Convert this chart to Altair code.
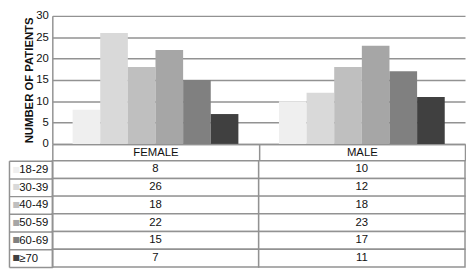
import altair as alt
import pandas as pd

# ---- data ----
sexes = ["FEMALE", "MALE"]
age_groups = ["18-29", "30-39", "40-49", "50-59", "60-69", "≥70"]
female = [8, 26, 18, 22, 15, 7]
male = [10, 12, 18, 23, 17, 11]
shades = ["#efefef", "#d9d9d9", "#bfbfbf", "#a6a6a6", "#808080", "#404040"]
y_ticks = [0, 5, 10, 15, 20, 25, 30]

rows = []
for sex, vals in zip(sexes, [female, male]):
    for age, v in zip(age_groups, vals):
        rows.append({"sex": sex, "age": age, "n": v})
df = pd.DataFrame(rows)

FONT = "Liberation Sans"
LINE = "#929292"
LW = 1.5
TXT = "#111111"
FS = 11.5
W = 419     # plot width (FEMALE + MALE columns)
H = 130     # bar plot height
HDR = 17    # header row height
ROW = 18    # table row height
LEFT = 44   # width of the left label column

bars = alt.Chart(df).mark_bar().encode(
    x=alt.X(
        "sex:N", sort=sexes,
        scale=alt.Scale(paddingInner=0, paddingOuter=0),
        axis=alt.Axis(
            title=None, orient="bottom", labelAngle=0, grid=False,
            tickBand="extent", tickSize=HDR, tickColor=LINE, tickWidth=LW,
            domainColor=LINE, domainWidth=LW,
            labelPadding=-HDR / 2, labelBaseline="middle",
            labelFont=FONT, labelFontSize=FS, labelColor=TXT,
        ),
    ),
    xOffset=alt.XOffset(
        "age:N", sort=age_groups,
        scale=alt.Scale(paddingInner=0, paddingOuter=0.734),
    ),
    y=alt.Y(
        "n:Q",
        scale=alt.Scale(domain=[0, 30], nice=False),
        axis=alt.Axis(
            title="NUMBER OF PATIENTS", values=y_ticks, ticks=False,
            labelPadding=4, labelFont=FONT, labelFontSize=FS, labelColor=TXT,
            titleFont=FONT, titleFontSize=FS, titleFontWeight="bold",
            titleColor=TXT, titlePadding=1,
            domainColor=LINE, domainWidth=LW,
            grid=True, gridColor=LINE, gridWidth=LW,
        ),
    ),
    color=alt.Color(
        "age:N", sort=age_groups,
        scale=alt.Scale(domain=age_groups, range=shades), legend=None,
    ),
).properties(width=W, height=H)

x_tab = alt.X("sex:N", sort=sexes, scale=alt.Scale(paddingInner=0, paddingOuter=0), axis=None)
y_scale = alt.Scale(domain=age_groups, paddingInner=0, paddingOuter=0)

cells = alt.Chart(df).mark_rect(fill="white", stroke=LINE, strokeWidth=LW).encode(
    x=x_tab,
    y=alt.Y(
        "age:N", sort=age_groups, scale=y_scale,
        axis=alt.Axis(
            title=None, orient="left", offset=0, grid=False,
            domain=True, domainColor=LINE, domainWidth=LW,
            ticks=True, tickBand="extent", tickSize=LEFT, tickColor=LINE, tickWidth=LW,
            labelAlign="left", labelBaseline="middle", labelPadding=-10,
            labelFont=FONT, labelFontSize=FS, labelColor=TXT,
        ),
    ),
)

square_color = {
    "condition": [
        {"test": f"datum.value === '{a}'", "value": c}
        for a, c in zip(age_groups, shades)
    ],
    "value": "#404040",
}

numbers = alt.Chart(df).mark_text(font=FONT, fontSize=FS, color=TXT).encode(
    x=x_tab,
    y=alt.Y(
        "age:N", sort=age_groups, scale=y_scale,
        axis=alt.Axis(
            title=None, orient="left", offset=LEFT, grid=False,
            domain=True, domainColor=LINE, domainWidth=LW,
            ticks=False, labelExpr="'■'",
            labelAlign="left", labelBaseline="middle", labelPadding=-3,
            labelFont="DejaVu Sans", labelFontSize=8, labelColor=square_color,
        ),
    ),
    text="n:Q",
)

table = alt.layer(cells, numbers).resolve_axis(y="independent").properties(
    width=W, height=ROW * len(age_groups)
)

chart = (
    alt.vconcat(bars, table, spacing=HDR, bounds="flush")
    .properties(padding=0)
    .configure_view(strokeWidth=0)
)

chart.save("out.html", embed_options={"renderer": "svg", "actions": False})
